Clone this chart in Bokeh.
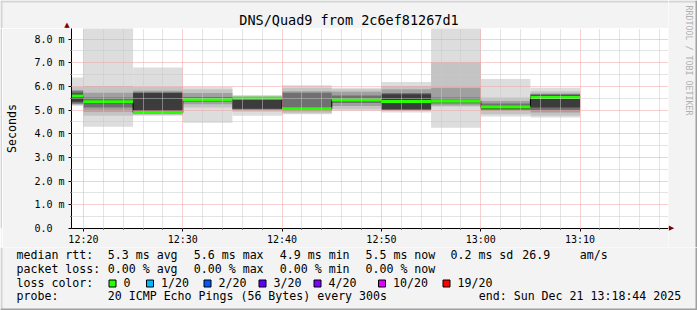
import math
from bokeh.plotting import figure
from bokeh.layouts import column, row
from bokeh.models import FixedTicker, Range1d
from bokeh.core.properties import value
from bokeh.embed import file_html
from bokeh.resources import INLINE

# ---------------- data ----------------
chart_title = "DNS/Quad9 from 2c6ef81267d1"
step_start = [15, 20, 25, 30, 35, 40, 45, 50, 55, 60, 65]   # minutes after 12:00
step_len = 5
median_ms = [5.60, 5.35, 4.90, 5.45, 5.50, 5.06, 5.43, 5.37, 5.39, 5.13, 5.53]
# smoke bands (ms), outermost (min..max) to innermost
band1_lo = [5.18, 4.30, 4.76, 4.47, 4.76, 4.83, 4.97, 4.90, 4.26, 4.73, 4.69]
band1_hi = [6.38, 9.50, 6.80, 5.98, 5.64, 6.05, 5.95, 6.19, 9.50, 6.32, 5.95]
band2_lo = [5.22, 4.76, 4.80, 5.11, 4.93, 4.87, 5.04, 4.97, 5.15, 4.83, 4.76]
band2_hi = [5.98, 6.02, 5.98, 5.88, 5.60, 5.95, 5.88, 6.02, 7.02, 5.53, 5.80]
band3_lo = [5.25, 4.93, 4.84, 5.25, 5.00, 4.95, 5.18, 5.00, 5.20, 4.97, 4.90]
band3_hi = [5.85, 5.74, 5.82, 5.72, 5.57, 5.80, 5.78, 5.88, 5.95, 5.39, 5.70]
band4_lo = [5.28, 5.11, 4.88, 5.35, 5.04, 5.00, 5.30, 5.02, 5.28, 5.02, 5.00]
band4_hi = [5.80, 5.53, 5.76, 5.56, 5.54, 5.74, 5.62, 5.72, 5.53, 5.28, 5.67]
band5_lo = [5.35, 5.28, 4.95, 5.40, 5.06, 5.03, 5.38, 5.04, 5.34, 5.05, 5.11]
band5_hi = [5.70, 5.40, 5.72, 5.50, 5.50, 5.10, 5.48, 5.67, 5.42, 5.18, 5.62]

time_ticks = [20, 30, 40, 50, 60, 70]
time_labels = ["12:20", "12:30", "12:40", "12:50", "13:00", "13:10"]
y_ticks = [0, 1, 2, 3, 4, 5, 6, 7, 8]
y_labels = ["0.0\u00a0\u00a0", "1.0 m", "2.0 m", "3.0 m", "4.0 m", "5.0 m", "6.0 m", "7.0 m", "8.0 m"]

legend_rtt = ["median rtt:", "5.3 ms avg", "5.6 ms max", "4.9 ms min", "5.5 ms now", "0.2 ms sd", "26.9", "am/s"]
legend_loss = ["packet loss:", "0.00 % avg", "0.00 % max", "0.00 % min", "0.00 % now"]
loss_names = ["0", "1/20", "2/20", "3/20", "4/20", "10/20", "19/20"]
loss_colors = ["#26ff00", "#00b8ff", "#0059ff", "#5e00ff", "#7e00ff", "#dd00ff", "#ff0000"]
probe_text = "20 ICMP Echo Pings (56 Bytes) every 300s"
end_text = "end: Sun Dec 21 13:18:44 2025"
watermark = "RRDTOOL / TOBI OETIKER"

# ---------------- geometry (page pixels) ----------------
W, H = 697, 310
FL, FR, FT, FB = 67, 668, 28, 228      # plot frame
MAIN_B = 247                          # bottom of main figure (x labels live above this)
EDGE = 2
MONO = "DejaVu Sans Mono"
BG = "#f3f3f3"
LIGHT_EDGE, DARK_EDGE = "#d4d4d4", "#a0a0a0"


def strip(x0, y0, w, h):
    """A figure with no axes whose data coordinates are page pixels (y downwards)."""
    f = figure(width=w, height=h, output_backend="svg", toolbar_location=None, title=None,
               x_range=Range1d(x0, x0 + w), y_range=Range1d(y0 + h, y0),
               x_axis_location=None, y_axis_location=None,
               min_border=0, min_border_left=0, min_border_right=0,
               min_border_top=0, min_border_bottom=0)
    f.grid.visible = False
    f.outline_line_color = None
    f.background_fill_color = BG
    f.border_fill_color = BG
    return f


def txt(f, x, y, s, size="11.6px", align="left", baseline="middle", angle=0.0,
        color="#000000", font=MONO):
    f.text(x=[x], y=[y], text=[s], text_font=value(font), text_font_size=value(size),
           text_align=align, text_baseline=baseline, angle=angle, text_color=color)


def edge(f, l, t, r, b, color):
    f.quad(left=[l], right=[r], top=[t], bottom=[b], fill_color=color, line_color=None)


# ---------------- main plot ----------------
p = figure(width=FR - EDGE, height=MAIN_B - FT, output_backend="svg", toolbar_location=None,
           title=None, x_range=(18.8, 78.9), y_range=(0, 8.45),
           min_border_left=FL - EDGE, min_border_right=0, min_border_top=0,
           min_border_bottom=MAIN_B - FB)
p.border_fill_color = BG
p.background_fill_color = "#ffffff"
p.outline_line_color = None

band_colors = ["#dddddd", "#c4c4c4", "#a0a0a0", "#707070", "#3c3c3c"]
bands = [(band1_lo, band1_hi), (band2_lo, band2_hi), (band3_lo, band3_hi),
         (band4_lo, band4_hi), (band5_lo, band5_hi)]
lefts = list(step_start)
rights = [s + step_len for s in step_start]
for (lo, hi), col in zip(bands, band_colors):
    p.quad(left=lefts, right=rights, bottom=lo, top=hi, fill_color=col, line_color=None)

p.step(x=lefts + [rights[-1]], y=median_ms + [median_ms[-1]], mode="after",
       line_color="#000000", line_width=1)
p.segment(x0=lefts, x1=rights, y0=median_ms, y1=median_ms, line_color=loss_colors[0], line_width=3)

minor_x = [m for m in range(20, 79, 2) if m % 10 != 0]
p.xaxis.ticker = FixedTicker(ticks=time_ticks, minor_ticks=minor_x)
p.xaxis.major_label_overrides = {t: l for t, l in zip(time_ticks, time_labels)}
minor_y = [i + 0.5 for i in range(0, 8)]
p.yaxis.ticker = FixedTicker(ticks=y_ticks, minor_ticks=minor_y)
p.yaxis.major_label_overrides = {t: l for t, l in zip(y_ticks, y_labels)}
for ax in (p.xaxis, p.yaxis):
    ax.axis_line_color = "#000000"
    ax.major_tick_line_color = "#000000"
    ax.minor_tick_line_color = "#000000"
    ax.major_tick_out = 3
    ax.major_tick_in = 0
    ax.minor_tick_out = 1
    ax.minor_tick_in = 0
    ax.major_label_text_font = MONO
    ax.major_label_text_font_size = "10px"
    ax.major_label_text_color = "#000000"
p.xaxis.major_label_standoff = 2
p.yaxis.major_label_standoff = 4
p.yaxis.axis_label = "Seconds"
p.yaxis.axis_label_text_font = MONO
p.yaxis.axis_label_text_font_size = "11.6px"
p.yaxis.axis_label_text_font_style = "normal"
p.yaxis.axis_label_text_color = "#000000"
p.yaxis.axis_label_standoff = 12

for g in (p.xgrid, p.ygrid):
    g.grid_line_color = "#f0a0a0"
    g.grid_line_dash = "1 1"
    g.grid_line_width = 1
    g.minor_grid_line_color = "#c8c8c8"
    g.minor_grid_line_dash = "1 1"
    g.minor_grid_line_width = 1
    g.level = "guide"

# ---------------- surrounding strips ----------------
left_edge = strip(0, FT, EDGE, MAIN_B - FT)
edge(left_edge, 0, FT, EDGE, MAIN_B, LIGHT_EDGE)

top = strip(0, 0, FR, FT)
edge(top, 0, 0, FR, EDGE, LIGHT_EDGE)
edge(top, 0, 0, EDGE, FT, LIGHT_EDGE)
txt(top, 348.5, 19.2, chart_title, size="13.5px", align="center")
top.segment(x0=[FL - 0.5], y0=[FT], x1=[FL - 0.5], y1=[25], line_color="#000000", line_width=1)
txt(top, FL - 0.5, 24, "\u25b2", size="7px", align="center", color="#800000", font="DejaVu Sans")

right = strip(FR, 0, W - FR, MAIN_B)
edge(right, FR, 0, W, EDGE, LIGHT_EDGE)
edge(right, W - EDGE, 0, W, MAIN_B, DARK_EDGE)
txt(right, 688.5, 60, watermark, size="8.3px", align="center",
    angle=-math.pi / 2, color="#b0b0b0")
right.segment(x0=[FR], y0=[FB - 0.5], x1=[670], y1=[FB - 0.5], line_color="#000000", line_width=1)
txt(right, 671, FB - 0.5, "\u25b6", size="7px", align="center", color="#800000", font="DejaVu Sans")

legend = strip(0, MAIN_B, W, H - MAIN_B)
edge(legend, 0, MAIN_B, EDGE, H, LIGHT_EDGE)
edge(legend, 0, H - EDGE, W, H, DARK_EDGE)
edge(legend, W - EDGE, MAIN_B, W, H, DARK_EDGE)

ROW_Y = [254.3, 268.3, 282.3, 295.9]
rtt_x = [16, 107.3, 193.3, 279.3, 365, 450, 521.7, 579.3]
for s, x in zip(legend_rtt, rtt_x):
    txt(legend, x, ROW_Y[0], s)
loss_x = [16, 107.3, 193.3, 279.3, 365]
for s, x in zip(legend_loss, loss_x):
    txt(legend, x, ROW_Y[1], s)
txt(legend, 16, ROW_Y[2], "loss color:")
box_x = [108.5, 146, 203.5, 258.5, 313.5, 378, 442.5]
legend.quad(left=box_x, right=[b + 7 for b in box_x], top=[279.5] * len(box_x),
            bottom=[286.5] * len(box_x), fill_color=loss_colors, line_color="#000000", line_width=1)
for name, bx in zip(loss_names, box_x):
    txt(legend, bx + 14.5, ROW_Y[2], name)
txt(legend, 16, ROW_Y[3], "probe:")
txt(legend, 107.3, ROW_Y[3], probe_text)
txt(legend, 478.3, ROW_Y[3], end_text)

layout = column(row(column(top, row(left_edge, p)), right), legend)
open("out.html", "w").write(file_html(layout, INLINE))
